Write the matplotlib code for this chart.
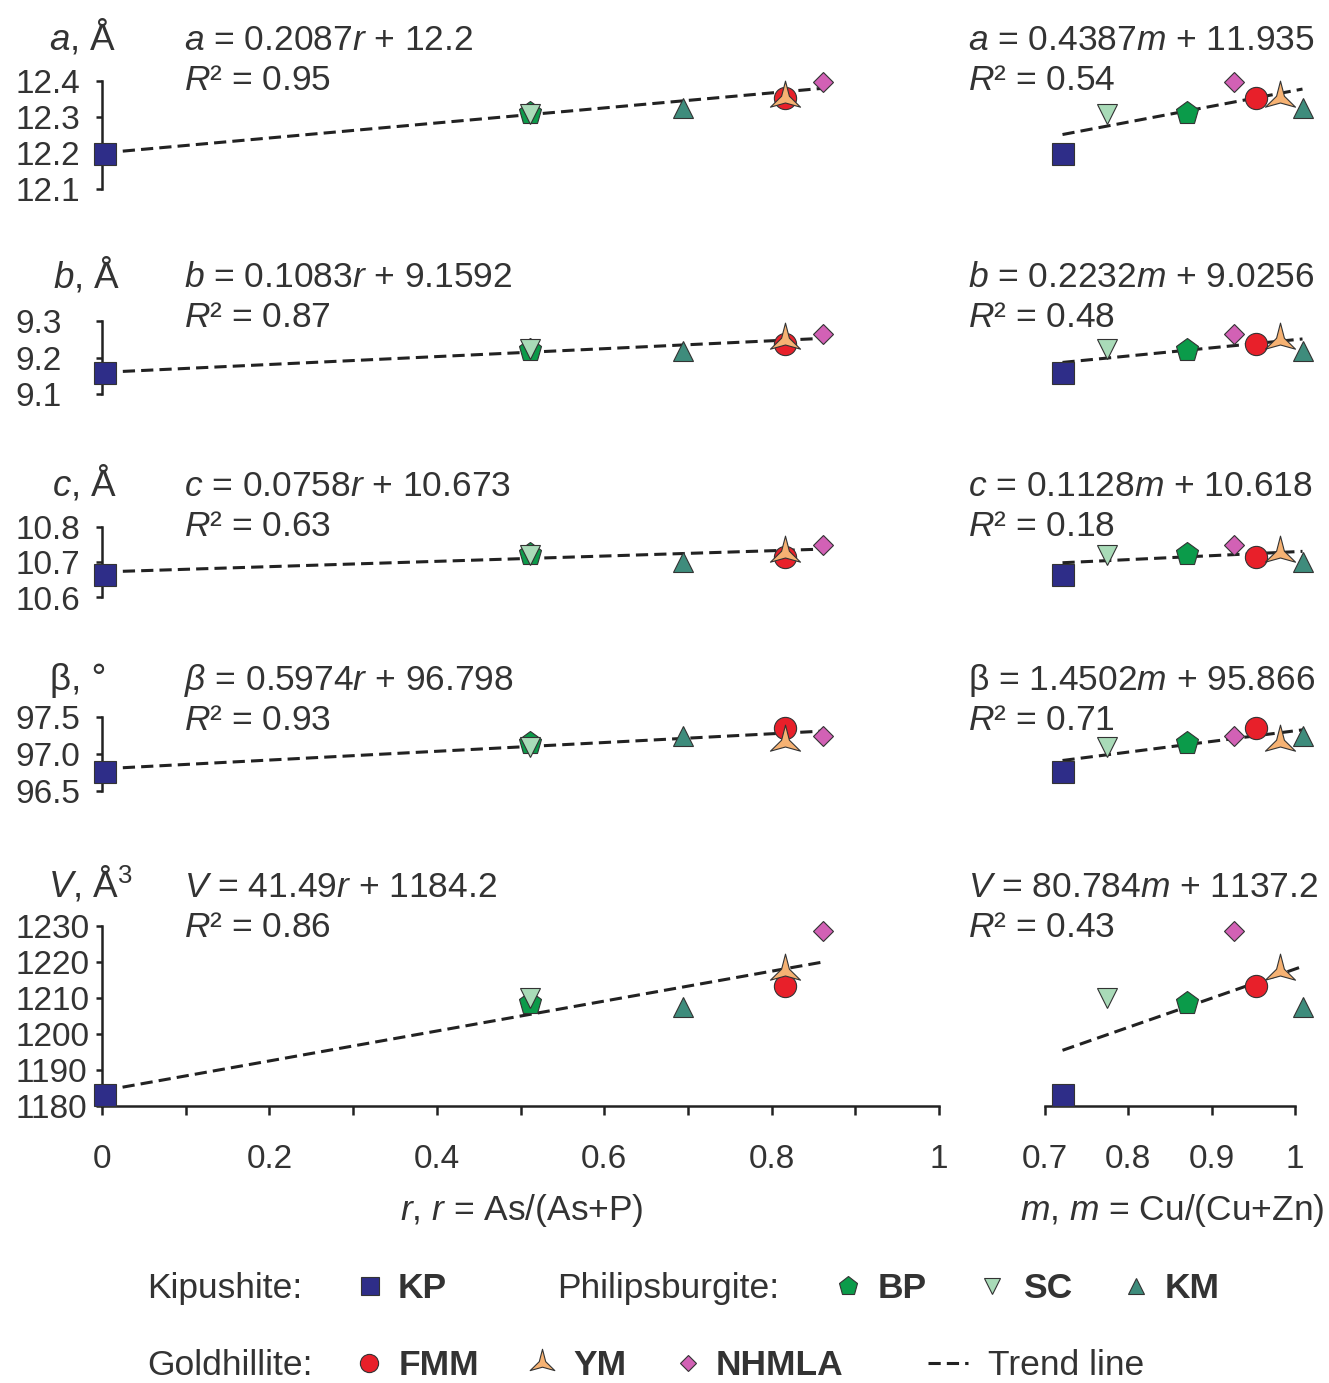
import matplotlib
matplotlib.use("Agg")
import matplotlib.pyplot as plt
from matplotlib.path import Path
from matplotlib.lines import Line2D
from matplotlib.ticker import MultipleLocator, FixedLocator

plt.rcParams["font.family"] = ["Liberation Sans", "DejaVu Sans"]
plt.rcParams["mathtext.fontset"] = "custom"
plt.rcParams["mathtext.rm"] = "Liberation Sans"
plt.rcParams["mathtext.it"] = "Liberation Sans:italic"
plt.rcParams["mathtext.bf"] = "Liberation Sans:bold"

# dados
samples = ["KP", "BP", "SC", "KM", "FMM", "YM", "NHMLA"]
r_vals = [0.003, 0.511, 0.511, 0.694, 0.816, 0.816, 0.862]
m_vals = [0.721, 0.870, 0.774, 1.009, 0.953, 0.982, 0.927]
a_vals = [12.197, 12.312, 12.307, 12.324, 12.352, 12.352, 12.397]
b_vals = [9.158, 9.221, 9.223, 9.219, 9.236, 9.247, 9.264]
c_vals = [10.665, 10.724, 10.722, 10.700, 10.716, 10.727, 10.750]
beta_vals = [96.76, 97.15, 97.10, 97.24, 97.35, 97.17, 97.24]
v_vals = [1183.1, 1208.6, 1209.9, 1207.4, 1213.4, 1217.5, 1228.5]

# equacoes das linhas de tendencia
slope_r = [0.2087, 0.1083, 0.0758, 0.5974, 41.49]
icpt_r = [12.2, 9.1592, 10.673, 96.798, 1184.2]
r2_r = [0.95, 0.87, 0.63, 0.93, 0.86]
slope_m = [0.4387, 0.2232, 0.1128, 1.4502, 80.784]
icpt_m = [11.935, 9.0256, 10.618, 95.866, 1137.2]
r2_m = [0.54, 0.48, 0.18, 0.71, 0.43]

eq_r_text = ["$a$ = 0.2087$r$ + 12.2", "$b$ = 0.1083$r$ + 9.1592",
             "$c$ = 0.0758$r$ + 10.673", r"$\beta$ = 0.5974$r$ + 96.798",
             "$V$ = 41.49$r$ + 1184.2"]
eq_m_text = ["$a$ = 0.4387$m$ + 11.935", "$b$ = 0.2232$m$ + 9.0256",
             "$c$ = 0.1128$m$ + 10.618", "β = 1.4502$m$ + 95.866",
             "$V$ = 80.784$m$ + 1137.2"]
row_titles = ["$a$, Å", "$b$, Å", "$c$, Å", "β, °", "$V$, Å$^3$"]
row_values = [a_vals, b_vals, c_vals, beta_vals, v_vals]
row_ticks = [[12.1, 12.2, 12.3, 12.4], [9.1, 9.2, 9.3], [10.6, 10.7, 10.8],
             [96.5, 97.0, 97.5], [1180, 1190, 1200, 1210, 1220, 1230]]
row_fmt = ["{:.1f}", "{:.1f}", "{:.1f}", "{:.1f}", "{:.0f}"]
row_ylim = [(12.05, 12.45), (9.05, 9.35), (10.55, 10.85), (96.25, 97.75), (1180, 1235)]

# layout em pixels da figura
W, H = 1329, 1383
row_px = [(63, 207), (302.75, 412.25), (510, 615), (699, 809), (907.7, 1106)]
title_base = [50, 287, 496, 690, 897]
title_x = [49, 53, 52, 50, 48]
TXT = "#333333"
FS = 24      # rotulos dos eixos
FT = 25.5    # textos (equacoes, titulos, legenda)

styles = {
    "KP": dict(marker="s", ms=15.5, mfc="#2e2d88"),
    "BP": dict(marker="p", ms=17, mfc="#0b9b4a"),
    "SC": dict(marker="v", ms=14.5, mfc="#a9dbb8"),
    "KM": dict(marker="^", ms=14.5, mfc="#3e8c7c"),
    "FMM": dict(marker="o", ms=16, mfc="#e8202a"),
    "YM": dict(marker=Path.unit_regular_star(3, innerCircle=0.26), ms=25, mfc="#f6b273"),
    "NHMLA": dict(marker="D", ms=10.5, mfc="#d261b5"),
}


def fx(px):
    return px / W


def fy(px):
    return 1 - px / H


fig = plt.figure(figsize=(W / 100, H / 100), dpi=100)

for i in range(5):
    top, bot = row_px[i]
    ax_l = fig.add_axes([fx(102), fy(bot), (939 - 102) / W, (bot - top) / H])
    ax_r = fig.add_axes([fx(1045), fy(bot), (1295 - 1045) / W, (bot - top) / H])
    last = i == 4
    for ax, xs, sl, ic in [(ax_l, r_vals, slope_r[i], icpt_r[i]),
                           (ax_r, m_vals, slope_m[i], icpt_m[i])]:
        ax.set_ylim(*row_ylim[i])
        ax.patch.set_alpha(0)
        for s in ["top", "right"]:
            ax.spines[s].set_visible(False)
        # linha de tendencia
        x0, x1 = min(xs), max(xs)
        ax.plot([x0, x1], [sl * x0 + ic, sl * x1 + ic], color="#222222", lw=2.2,
                dashes=(4, 2), zorder=2, clip_on=False)
        for k, name in enumerate(samples):
            ax.plot(xs[k], row_values[i][k], linestyle="none", mec="#333333", mew=0.8,
                    zorder=3 + k, clip_on=False, **styles[name])
        ax.spines["bottom"].set_visible(last)
        ax.spines["bottom"].set_linewidth(1.8)
        ax.spines["bottom"].set_color("#222222")
        if last:
            ax.tick_params(axis="x", which="both", direction="out", length=6.5, width=1.8,
                           color="#222222", labelsize=FS, labelcolor=TXT, pad=21)
        else:
            ax.tick_params(axis="x", which="both", bottom=False, labelbottom=False)

    ax_l.set_xlim(0, 1)
    ax_r.set_xlim(0.7, 1.0)
    if last:
        ax_l.xaxis.set_major_locator(FixedLocator([0, 0.2, 0.4, 0.6, 0.8, 1.0]))
        ax_l.xaxis.set_minor_locator(MultipleLocator(0.1))
        ax_l.set_xticklabels(["0", "0.2", "0.4", "0.6", "0.8", "1"])
        ax_r.xaxis.set_major_locator(FixedLocator([0.7, 0.8, 0.9, 1.0]))
        ax_r.set_xticklabels(["0.7", "0.8", "0.9", "1"])
        ax_l.spines["bottom"].set_bounds(0, 1)
        ax_r.spines["bottom"].set_bounds(0.7, 1.0)

    # eixo y apenas na coluna esquerda
    ax_l.spines["left"].set_bounds(row_ticks[i][0], row_ticks[i][-1])
    ax_l.spines["left"].set_linewidth(1.8)
    ax_l.spines["left"].set_color("#222222")
    ax_l.set_yticks(row_ticks[i])
    ax_l.set_yticklabels([row_fmt[i].format(t) for t in row_ticks[i]])
    ax_l.tick_params(axis="y", direction="out", length=4.5, width=1.8, color="#222222",
                     labelsize=FS, labelcolor=TXT, pad=58)
    for t in ax_l.yaxis.get_major_ticks():
        t.label1.set_horizontalalignment("left")
    ax_r.spines["left"].set_visible(False)
    ax_r.tick_params(axis="y", left=False, labelleft=False)

    # titulos e equacoes
    fig.text(fx(title_x[i]), fy(title_base[i]), row_titles[i], fontsize=FT + 1,
             color=TXT, va="baseline", ha="left")
    fig.text(fx(184), fy(title_base[i]), eq_r_text[i], fontsize=FT, color=TXT,
             va="baseline", ha="left")
    fig.text(fx(184), fy(title_base[i] + 40), "$R$² = {:.2f}".format(r2_r[i]),
             fontsize=FT, color=TXT, va="baseline", ha="left")
    fig.text(fx(968), fy(title_base[i]), eq_m_text[i], fontsize=FT, color=TXT,
             va="baseline", ha="left")
    fig.text(fx(968), fy(title_base[i] + 40), "$R$² = {:.2f}".format(r2_m[i]),
             fontsize=FT, color=TXT, va="baseline", ha="left")

fig.text(fx(522), fy(1220), "$r$, $r$ = As/(As+P)", fontsize=FT, color=TXT,
         ha="center", va="baseline")
fig.text(fx(1172), fy(1220), "$m$, $m$ = Cu/(Cu+Zn)", fontsize=FT, color=TXT,
         ha="center", va="baseline")

# legenda manual
legend_rows = [
    (1298, [("Kipushite:", 147), ("Philipsburgite:", 557)],
     [("KP", 370, 398), ("BP", 848, 878), ("SC", 992, 1023), ("KM", 1136, 1165)]),
    (1375, [("Goldhillite:", 147)],
     [("FMM", 369, 399), ("YM", 542, 573), ("NHMLA", 688, 716)]),
]
for base, groups, items in legend_rows:
    for label, x in groups:
        fig.text(fx(x), fy(base), label, fontsize=FT, color=TXT, va="baseline", ha="left")
    for name, xm, xt in items:
        st = dict(styles[name])
        st["ms"] = st["ms"] * 0.82
        fig.add_artist(Line2D([fx(xm)], [fy(base - 12)], transform=fig.transFigure,
                              linestyle="none", mec="#333333", mew=0.8, **st))
        fig.text(fx(xt), fy(base), name, fontsize=FT, color=TXT, fontweight="bold",
                 va="baseline", ha="left")

fig.add_artist(Line2D([fx(928), fx(968)], [fy(1363), fy(1363)], transform=fig.transFigure,
                      color="#222222", lw=2.2, dashes=(4, 2)))
fig.text(fx(988), fy(1375), "Trend line", fontsize=FT, color=TXT, va="baseline", ha="left")

fig.savefig("out.png", dpi=100, facecolor="white")
